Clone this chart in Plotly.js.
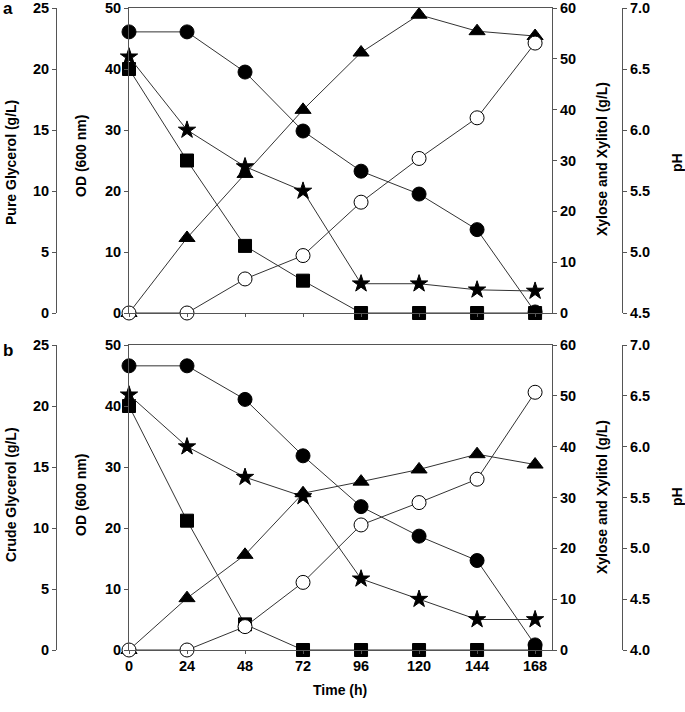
<!DOCTYPE html>
<html>
<head>
<meta charset="utf-8">
<script src="https://cdn.plot.ly/plotly-3.0.1.min.js"></script>
<style>html,body{margin:0;padding:0;background:#fff;}#chart{width:685px;height:712px;}</style>
</head>
<body>
<div id="chart"></div>
<script>
// Time points (h)
const time = [0, 24, 48, 72, 96, 120, 144, 168];
const timeTicks = [0, 24, 48, 72, 96, 120, 144, 168];

// Panel a: pure glycerol
const aGlycerol = [20, 12.5, 5.5, 2.65, 0, 0, 0, 0];          // g/L (squares)
const aOD = [0, 12.3, 22.8, 33.3, 42.7, 48.9, 46.2, 45.4];     // OD 600 nm (triangles)
const apH = [6.6, 6.0, 5.7, 5.5, 4.74, 4.74, 4.69, 4.68];      // pH (stars)
const aXylose = [55.3, 55.3, 47.4, 35.8, 27.9, 23.4, 16.4, 0.2];  // g/L (filled circles)
const aXylitol = [0, 0, 6.7, 11.3, 21.8, 30.4, 38.4, 53.1];     // g/L (open circles)

// Panel b: crude glycerol
const bGlycerol = [20, 10.6, 2.1, 0, 0, 0, 0, 0];
const bOD = [0, 8.5, 15.6, 25.7, 27.6, 29.6, 32.1, 30.4];
const bpH = [6.51, 6.0, 5.70, 5.51, 4.70, 4.50, 4.30, 4.30];
const bXylose = [55.9, 55.9, 49.3, 38.2, 28.2, 22.4, 17.6, 1.0];
const bXylitol = [0, 0, 4.6, 13.3, 24.6, 29.0, 33.6, 50.7];

const W = 685, H = 712;
const FONT = 'Liberation Sans, Arial, sans-serif';
const lineCol = '#333';
const axCol = '#555';
const xL = 129 / W, xR = 552 / W;
const glyPos = 56 / W, pHPos = 622 / W;
const domA = [1 - 313 / H, 1 - 8 / H];
const domB = [1 - 650 / H, 1 - 345 / H];

function tr(x, y, xa, ya, symbol, size, fill) {
  return {
    x: x, y: y, xaxis: xa, yaxis: ya, type: 'scatter', mode: 'lines+markers',
    cliponaxis: false, showlegend: false,
    line: {color: lineCol, width: 1},
    marker: {symbol: symbol, size: size, color: fill, line: {color: '#000', width: 1}}
  };
}

const data = [
  tr(time, aGlycerol, 'x', 'y', 'square', 13, '#000'),
  tr(time, aOD, 'x', 'y2', 'triangle-up', 14, '#000'),
  tr(time, apH, 'x', 'y3', 'star', 13, '#000'),
  tr(time, aXylose, 'x', 'y4', 'circle', 14, '#000'),
  tr(time, aXylitol, 'x', 'y4', 'circle', 14, '#fff'),
  tr(time, bGlycerol, 'x2', 'y5', 'square', 13, '#000'),
  tr(time, bOD, 'x2', 'y6', 'triangle-up', 14, '#000'),
  tr(time, bpH, 'x2', 'y7', 'star', 13, '#000'),
  tr(time, bXylose, 'x2', 'y8', 'circle', 14, '#000'),
  tr(time, bXylitol, 'x2', 'y8', 'circle', 14, '#fff')
];

const tickfont = {family: FONT, size: 14.5, color: '#000', weight: 'bold'};
function yax(extra) {
  return Object.assign({
    showgrid: false, zeroline: false, showline: true, linecolor: axCol, linewidth: 1,
    ticks: 'outside', ticklen: 4, tickcolor: axCol, tickfont: tickfont, fixedrange: true,
    ticklabeloverflow: 'allow'
  }, extra);
}
function xax(extra) {
  return Object.assign({
    domain: [xL, xR], range: [0, 175], tickvals: timeTicks, showgrid: false, zeroline: false,
    showline: true, mirror: true, linecolor: axCol, linewidth: 1,
    ticks: 'outside', ticklen: 3, tickcolor: axCol, tickfont: tickfont, fixedrange: true,
    ticklabeloverflow: 'allow'
  }, extra);
}

function ann(text, px, py, angle, size) {
  return {text: text, xref: 'paper', yref: 'paper', x: px / W, y: 1 - py / H,
    xanchor: 'center', yanchor: 'middle', showarrow: false, textangle: angle || 0,
    font: {family: FONT, size: size || 14, color: '#000', weight: 'bold'}};
}

const layout = {
  width: W, height: H, margin: {l: 0, r: 0, t: 0, b: 0},
  paper_bgcolor: '#fff', plot_bgcolor: 'rgba(0,0,0,0)',
  xaxis: xax({anchor: 'y2', showticklabels: false}),
  xaxis2: xax({anchor: 'y6', showticklabels: true}),
  yaxis: yax({domain: domA, range: [0, 25], dtick: 5, anchor: 'free', position: glyPos, side: 'left'}),
  yaxis2: yax({domain: domA, range: [0, 50], dtick: 10, overlaying: 'y', anchor: 'x', side: 'left'}),
  yaxis3: yax({domain: domA, range: [4.5, 7], dtick: 0.5, tickformat: '.1f', overlaying: 'y', anchor: 'free', position: pHPos, side: 'right'}),
  yaxis4: yax({domain: domA, range: [0, 60], dtick: 10, overlaying: 'y', anchor: 'x', side: 'right'}),
  yaxis5: yax({domain: domB, range: [0, 25], dtick: 5, anchor: 'free', position: glyPos, side: 'left'}),
  yaxis6: yax({domain: domB, range: [0, 50], dtick: 10, overlaying: 'y5', anchor: 'x2', side: 'left'}),
  yaxis7: yax({domain: domB, range: [4, 7], dtick: 0.5, tickformat: '.1f', overlaying: 'y5', anchor: 'free', position: pHPos, side: 'right'}),
  yaxis8: yax({domain: domB, range: [0, 60], dtick: 10, overlaying: 'y5', anchor: 'x2', side: 'right'}),
  annotations: [
    ann('a', 8, 9, 0, 17),
    ann('b', 8, 350, 0, 17),
    ann('Pure Glycerol (g/L)', 11, 163, -90),
    ann('OD (600 nm)', 81, 156, -90),
    ann('Xylose and Xylitol (g/L)', 602, 159, -90),
    ann('pH', 677, 163, -90),
    ann('Crude Glycerol (g/L)', 11, 495, -90),
    ann('OD (600 nm)', 81, 495, -90),
    ann('Xylose and Xylitol (g/L)', 602, 497, -90),
    ann('pH', 677, 497, -90),
    ann('Time (h)', 340, 690, 0)
  ]
};

Plotly.newPlot('chart', data, layout, {displayModeBar: false, staticPlot: true});
</script>
</body>
</html>
